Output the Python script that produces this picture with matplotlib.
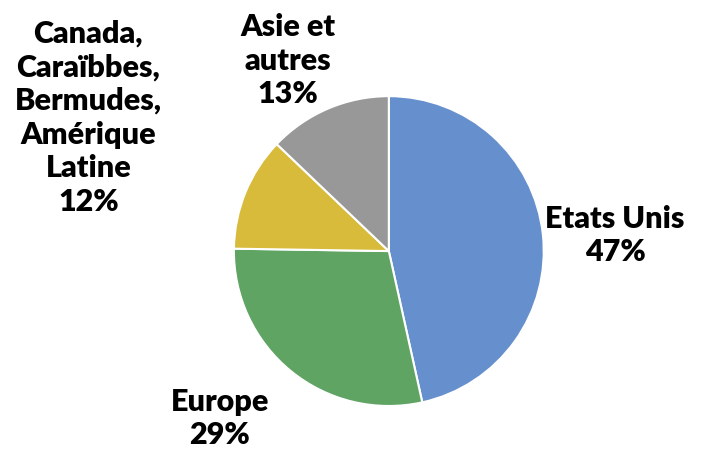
import matplotlib
matplotlib.use("Agg")
import matplotlib.pyplot as plt

labels = ["Etats Unis", "Europe", "Canada,\nCaraïbbes,\nBermudes,\nAmérique\nLatine", "Asie et\nautres"]
shares = [47, 29, 12, 13]
colors = ["#658fcd", "#5fa463", "#d8bb3a", "#989898"]
# label centres, in units of pie radius
label_pos = [(1.46, 0.10), (-1.09, -1.08), (-1.94, 0.86), (-0.65, 1.23)]

fig = plt.figure(figsize=(7.15, 4.51), dpi=100)
ax = fig.add_axes([0.327, 0.0998, 0.4336, 0.687])

ax.pie(shares, colors=colors, startangle=90, counterclock=False,
       wedgeprops={"edgecolor": "white", "linewidth": 1.5})

for lab, val, (x, y) in zip(labels, shares, label_pos):
    ax.text(x, y, f"{lab}\n{val}%", ha="center", va="center",
            fontsize=22, fontweight="heavy", family="Lato",
            linespacing=1.25, clip_on=False)

ax.set_xlim(-1, 1)
ax.set_ylim(-1, 1)
ax.set_aspect("equal")
ax.axis("off")

fig.savefig("out.png", dpi=100)
